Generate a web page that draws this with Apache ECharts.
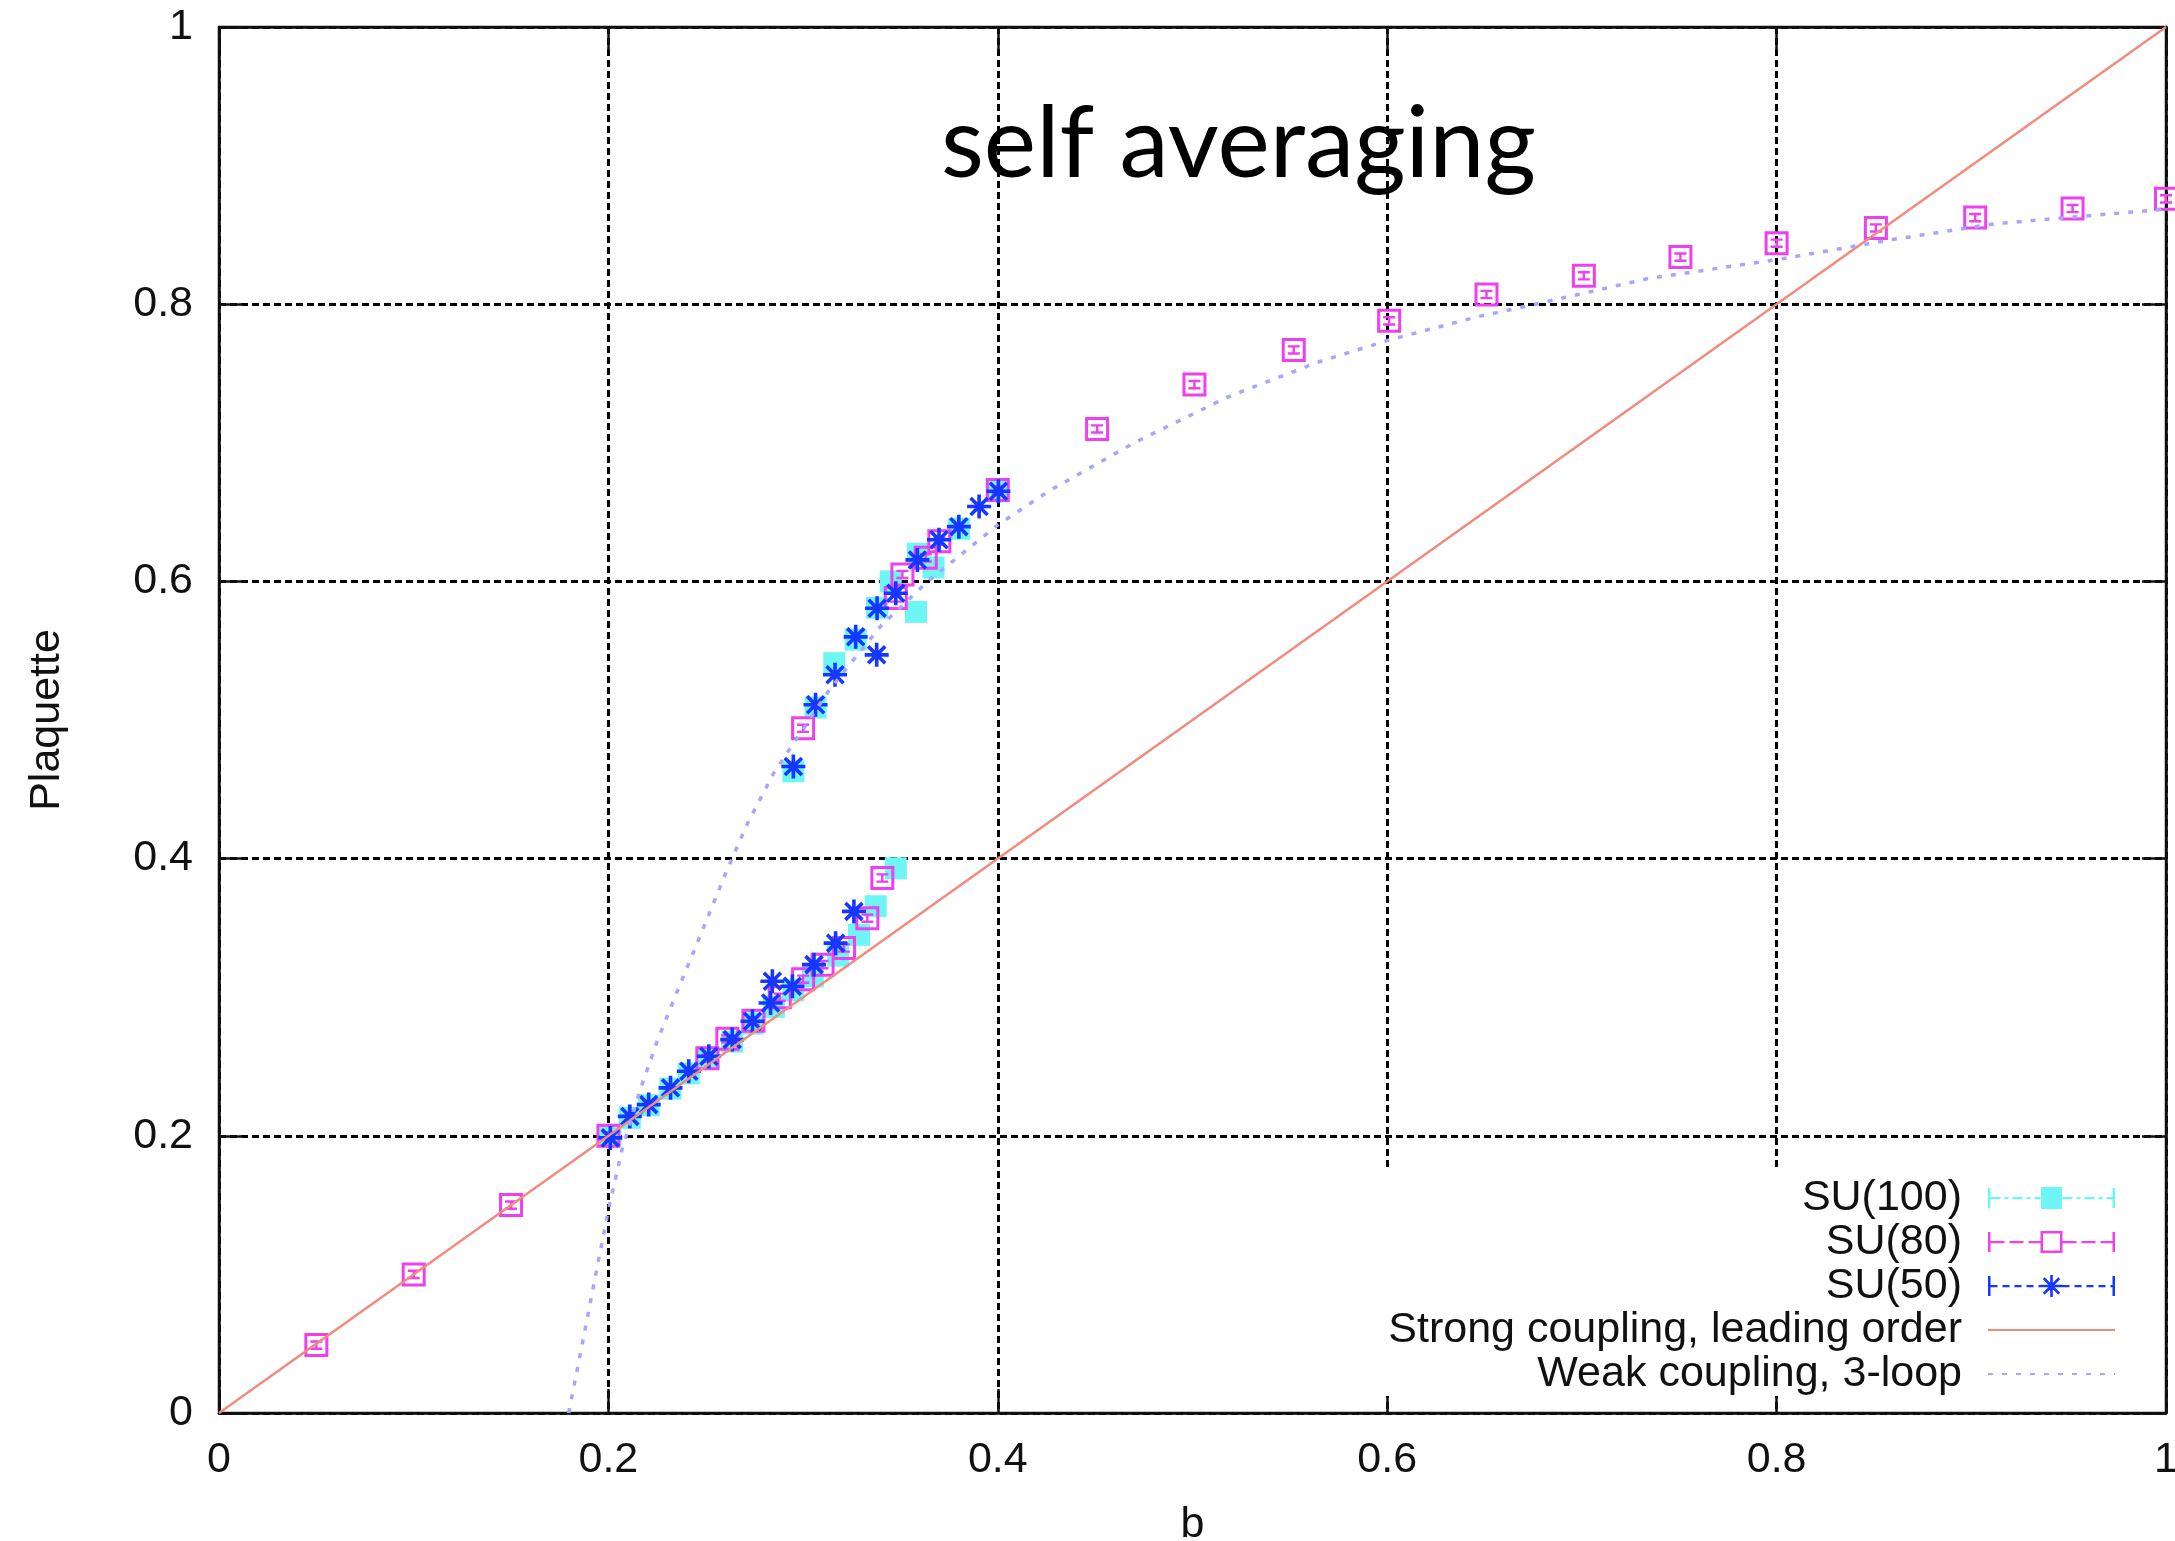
<!DOCTYPE html>
<html>
<head>
<meta charset="utf-8">
<script src="https://cdn.jsdelivr.net/npm/echarts@6/dist/echarts.min.js"></script>
<style>
  html, body { margin: 0; padding: 0; background: #fff; }
  #chart { width: 2175px; height: 1541px; }
</style>
</head>
<body>
<div id="chart"></div>
<script>
// Axis tick labels
const xTickLabels = ['0', '0.2', '0.4', '0.6', '0.8', '1'];
const yTickLabels = ['0', '0.2', '0.4', '0.6', '0.8', '1'];

// SU(100): [b, plaquette]
const su100Low = [
  [0.201, 0.200], [0.211, 0.213], [0.2207, 0.222], [0.2319, 0.234], [0.2413, 0.245],
  [0.2516, 0.256], [0.2636, 0.268], [0.274, 0.281], [0.285, 0.293], [0.295, 0.305],
  [0.305, 0.315], [0.318, 0.330], [0.3287, 0.345], [0.3373, 0.3656], [0.3476, 0.393]
];
const su100High = [
  [0.295, 0.463], [0.3064, 0.509], [0.316, 0.541], [0.327, 0.558], [0.338, 0.581],
  [0.345, 0.600], [0.358, 0.578], [0.359, 0.620], [0.367, 0.610], [0.380, 0.638], [0.400, 0.665]
];

// SU(80)
const su80Strong = [[0.05, 0.049], [0.10, 0.100], [0.15, 0.150], [0.20, 0.200]];
const su80Low = [
  [0.2508, 0.256], [0.2611, 0.270], [0.2745, 0.283], [0.288, 0.300], [0.300, 0.313],
  [0.310, 0.3235], [0.321, 0.3355], [0.333, 0.357], [0.3407, 0.386]
];
const su80High = [[0.300, 0.494], [0.3476, 0.588], [0.351, 0.605], [0.363, 0.617], [0.370, 0.629], [0.400, 0.666]];
const su80Weak = [
  [0.451, 0.710], [0.501, 0.742], [0.552, 0.767], [0.601, 0.788], [0.651, 0.807], [0.701, 0.8205],
  [0.7506, 0.834], [0.800, 0.844], [0.851, 0.855], [0.902, 0.8625], [0.952, 0.869], [1.000, 0.876]
];

// SU(50)
const su50Low = [
  [0.201, 0.1985], [0.211, 0.214], [0.2207, 0.2225], [0.2319, 0.2346], [0.2413, 0.2466],
  [0.2516, 0.2574], [0.2636, 0.2694], [0.274, 0.2826], [0.2833, 0.2958], [0.2842, 0.3115],
  [0.2945, 0.3079], [0.3056, 0.3235], [0.3167, 0.339], [0.3261, 0.3619]
];
const su50High = [
  [0.295, 0.4665], [0.3064, 0.511], [0.3164, 0.5326], [0.327, 0.560], [0.3378, 0.547],
  [0.338, 0.5806], [0.3476, 0.5914], [0.3587, 0.6155], [0.3698, 0.630], [0.380, 0.6395],
  [0.3904, 0.654], [0.4003, 0.665]
];

// Strong coupling, leading order
const strongB = [0, 1];
const strongP = [0, 1];

// Weak coupling, 3-loop
const weakB = [0.1796, 0.1873, 0.1942, 0.2002, 0.207, 0.2165, 0.225, 0.2353, 0.2456, 0.261, 0.2713,
  0.285, 0.2936, 0.3136, 0.34, 0.364, 0.4002, 0.426, 0.470, 0.518, 0.564, 0.6005, 0.6465, 0.673,
  0.734, 0.8018, 0.861, 0.912, 1.0];
const weakP = [0.0, 0.055, 0.105, 0.148, 0.19, 0.234, 0.268, 0.304, 0.339, 0.392, 0.425,
  0.462, 0.480, 0.522, 0.568, 0.600, 0.641, 0.665, 0.700, 0.733, 0.758, 0.774, 0.791, 0.799,
  0.8185, 0.8325, 0.847, 0.858, 0.8686];

// ---- colours / fonts
const C_CYAN = '#6ef5f5';
const C_MAGENTA = '#ee40ee';
const C_BLUE = '#1537ff';
const C_STRONG = '#f28a7e';
const C_WEAK = '#a6a6ff';
const FONT = 'Liberation Sans, Arial, Helvetica, sans-serif';
const INK = '#111';

// ---- symbol shapes built from filled polygons
function rectPath(x, y, w, h, ccw) {
  return ccw
    ? `M${x} ${y}L${x} ${y + h}L${x + w} ${y + h}L${x + w} ${y}Z`
    : `M${x} ${y}L${x + w} ${y}L${x + w} ${y + h}L${x} ${y + h}Z`;
}
function barPath(cx, cy, len, th, ang) {
  const c = Math.cos(ang), s = Math.sin(ang);
  const pts = [[-len / 2, -th / 2], [len / 2, -th / 2], [len / 2, th / 2], [-len / 2, th / 2]]
    .map(([u, v]) => [cx + u * c - v * s, cy + u * s + v * c]);
  return 'M' + pts.map(p => p[0].toFixed(2) + ' ' + p[1].toFixed(2)).join('L') + 'Z';
}
function asteriskPath(cx, cy, size, th) {
  return [0, 45, 90, 135].map(a => barPath(cx, cy, size, th, a * Math.PI / 180)).join('');
}
function boxedPath(x, y, size, th) {
  return rectPath(x, y, size, size) +
    rectPath(x + th, y + th, size - 2 * th, size - 2 * th, true) +
    rectPath(x + size * 0.25, y + size * 0.3, size * 0.5, 2.4) +
    rectPath(x + size * 0.25, y + size * 0.6, size * 0.5, 2.4) +
    rectPath(x + size / 2 - 1.2, y + size * 0.3 + 2.4, 2.4, size * 0.3 - 2.4);
}
function dashes(x0, x1, pattern, y, th) {
  let out = '', x = x0, i = 0;
  while (x < x1) {
    const len = pattern[i % pattern.length];
    const end = Math.min(x + len, x1);
    if (i % 2 === 0 && end > x) out += rectPath(x, y, end - x, th);
    x += len; i++;
  }
  return out;
}
// Legend sample: end caps, dashed line, marker in the middle (box 127 x 22)
function legendIcon(pattern, marker) {
  const caps = rectPath(0, 1, 2.5, 20) + rectPath(124.5, 1, 2.5, 20);
  const line = dashes(2.5, 52.5, pattern, 10, 2.2) + dashes(74.5, 124.5, pattern, 10, 2.2);
  return 'path://' + caps + line + marker;
}

const SYM_SU80 = 'path://' + boxedPath(0, 0, 24, 3);
const SYM_SU50 = 'path://' + asteriskPath(12, 12, 24, 3.6);

const ICON_SU100 = legendIcon([10, 4, 4, 4], rectPath(53, 0, 21, 22));
const ICON_SU80 = legendIcon([14, 5], rectPath(52.5, 0, 22, 22) + rectPath(55, 2.5, 17, 17, true));
const ICON_SU50 = legendIcon([7, 5], asteriskPath(63.5, 11, 22, 2.6));

const labelStyle = { fontFamily: FONT, fontSize: 43, color: INK };
const axisLineStyle = { color: INK, width: 2.5 };
const gridLineStyle = { color: '#000', width: 3, type: [7, 4] };
const hiddenMarker = { color: 'rgba(0,0,0,0)', borderWidth: 0, opacity: 0 };

const chart = echarts.init(document.getElementById('chart'), null, { renderer: 'canvas' });
chart.setOption({
  animation: false,
  backgroundColor: '#fff',
  title: {
    text: 'self averaging',
    left: 941,
    top: 96,
    padding: 0,
    textStyle: { fontFamily: 'Lato, sans-serif', fontSize: 99, fontWeight: 'normal', color: '#000' }
  },
  grid: {
    left: 219, right: 9, top: 27, bottom: 128,
    show: true, borderColor: INK, borderWidth: 2.5, backgroundColor: 'transparent',
    outerBoundsMode: 'none'
  },
  legend: {
    orient: 'vertical',
    align: 'right',
    right: 19,
    top: 1168,
    itemWidth: 127,
    itemHeight: 22,
    itemGap: 0,
    padding: [8, 40, 0, 8],
    backgroundColor: '#fff',
    selectedMode: false,
    textStyle: { fontFamily: FONT, fontSize: 43, color: INK, lineHeight: 44, padding: [0, 21, 0, 0] },
    data: [
      { name: 'SU(100)', icon: ICON_SU100 },
      { name: 'SU(80)', icon: ICON_SU80 },
      { name: 'SU(50)', icon: ICON_SU50 },
      { name: 'Strong coupling, leading order', itemStyle: hiddenMarker },
      { name: 'Weak coupling, 3-loop', itemStyle: hiddenMarker }
    ]
  },
  xAxis: [{
    type: 'value', min: 0, max: 1, interval: 0.2, position: 'bottom',
    name: 'b', nameLocation: 'middle', nameGap: 91,
    nameTextStyle: { fontFamily: FONT, fontSize: 43, color: INK },
    axisLine: { show: true, onZero: false, lineStyle: axisLineStyle },
    axisTick: { show: true, inside: true, length: 24, lineStyle: axisLineStyle },
    axisLabel: Object.assign({ margin: 26, formatter: v => xTickLabels[Math.round(v / 0.2)] }, labelStyle),
    splitLine: { show: true, lineStyle: gridLineStyle }
  }, {
    type: 'value', min: 0, max: 1, interval: 0.2, position: 'top',
    axisLine: { show: true, onZero: false, lineStyle: axisLineStyle },
    axisTick: { show: true, inside: true, length: 24, lineStyle: axisLineStyle },
    axisLabel: { show: false },
    splitLine: { show: false }
  }],
  yAxis: [{
    type: 'value', min: 0, max: 1, interval: 0.2, position: 'left',
    name: 'Plaquette', nameLocation: 'middle', nameGap: 150,
    nameTextStyle: { fontFamily: FONT, fontSize: 43, color: INK },
    axisLine: { show: true, onZero: false, lineStyle: axisLineStyle },
    axisTick: { show: true, inside: true, length: 24, lineStyle: axisLineStyle },
    axisLabel: Object.assign({ margin: 26, formatter: v => yTickLabels[Math.round(v / 0.2)] }, labelStyle),
    splitLine: { show: true, lineStyle: gridLineStyle }
  }, {
    type: 'value', min: 0, max: 1, interval: 0.2, position: 'right',
    axisLine: { show: true, onZero: false, lineStyle: axisLineStyle },
    axisTick: { show: true, inside: true, length: 24, lineStyle: axisLineStyle },
    axisLabel: { show: false },
    splitLine: { show: false }
  }],
  series: [
    {
      name: 'SU(100)', type: 'scatter', clip: false,
      symbol: 'rect', symbolSize: 22,
      itemStyle: { color: C_CYAN, opacity: 1 },
      data: su100Low.concat(su100High)
    },
    {
      name: 'SU(80)', type: 'scatter', clip: false,
      symbol: SYM_SU80, symbolSize: 24,
      itemStyle: { color: C_MAGENTA, opacity: 1 },
      data: su80Strong.concat(su80Low, su80High, su80Weak)
    },
    {
      name: 'SU(50)', type: 'scatter', clip: false,
      symbol: SYM_SU50, symbolSize: 24,
      itemStyle: { color: C_BLUE, opacity: 1 },
      data: su50Low.concat(su50High)
    },
    {
      name: 'Strong coupling, leading order', type: 'line',
      symbol: 'none', showSymbol: false,
      itemStyle: { color: C_STRONG },
      lineStyle: { color: C_STRONG, width: 2.5 },
      data: strongB.map((b, i) => [b, strongP[i]])
    },
    {
      name: 'Weak coupling, 3-loop', type: 'line',
      symbol: 'none', showSymbol: false,
      itemStyle: { color: C_WEAK },
      lineStyle: { color: C_WEAK, width: 3.5, type: [5, 9] },
      data: weakB.map((b, i) => [b, weakP[i]])
    }
  ]
});
</script>
</body>
</html>
